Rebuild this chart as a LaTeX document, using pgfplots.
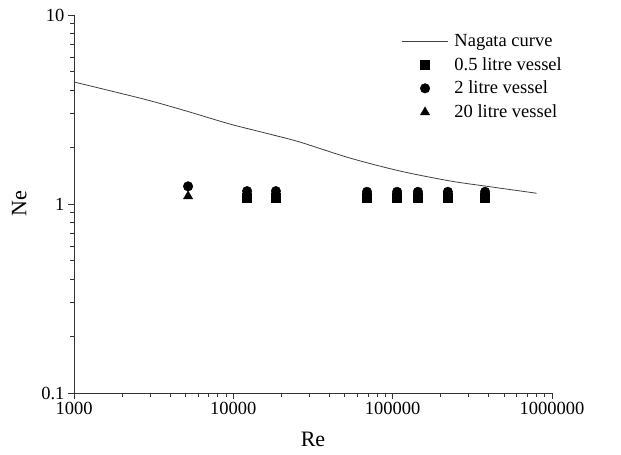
\documentclass[border=0pt]{standalone}
\usepackage{pgfplots}
\pgfplotsset{compat=1.18}
\usepackage{fontspec}
\setmainfont{Liberation Serif}
\pgfplotsset{
  lineleg/.style={legend image code/.code={\draw[##1] (0pt,0pt) -- (46pt,0pt);}},
  markleg/.style={legend image code/.code={\draw[##1] plot coordinates {(23pt,0pt)};}},
}
\begin{document}
\begin{tikzpicture}
\begin{axis}[
  scale only axis,
  width=478pt, height=378pt,
  xmode=log, ymode=log,
  xmin=1000, xmax=1000000,
  ymin=0.1, ymax=10,
  axis lines=left,
  axis line style={-, black!80, line width=0.9pt},
  tick style={black!80, line width=0.8pt},
  tick align=outside,
  major tick length=6pt,
  minor tick length=4pt,
  xtick={1000,10000,100000,1000000},
  xticklabels={1000,10000,100000,1000000},
  ytick={0.1,1,10},
  yticklabels={0.1,1,10},
  /pgf/number format/assume math mode=true,
  tick label style={font=\fontsize{18.5}{20}\selectfont},
  xlabel={Re}, ylabel={Ne},
  label style={font=\fontsize{22}{24}\selectfont},
  xlabel style={yshift=-10pt},
  ylabel style={yshift=8pt},
  clip=false,
  legend style={draw=none, fill=none, font=\fontsize{18.5}{20}\selectfont,
    at={(rel axis cs:0.685,0.955)}, anchor=north west,
    row sep=5.5pt, inner sep=0pt,
    /tikz/every odd column/.append style={column sep=4pt}},
  legend cell align=left,
]
\addplot[black!75, line width=0.8pt, smooth, lineleg]
  coordinates {(1000,4.42) (1500,4.07) (3000,3.52) (5300,3.07) (9500,2.65)
  (17000,2.34) (26000,2.13) (54000,1.75) (111000,1.495) (229000,1.324)
  (392000,1.24) (800000,1.14)};
\addlegendentry{Nagata curve}
\addplot[only marks, mark=square*, mark size=4.4pt, black, markleg]
  coordinates {(12200,1.08) (18500,1.08) (69000,1.08) (106600,1.08)
  (144000,1.08) (222000,1.08) (380000,1.08)};
\addlegendentry{0.5 litre vessel}
\addplot[only marks, mark=*, mark size=4.8pt, black, markleg]
  coordinates {(5200,1.24) (12200,1.17) (18500,1.17) (69000,1.16) (106600,1.16)
  (144000,1.16) (222000,1.16) (380000,1.16)};
\addlegendentry{2 litre vessel}
\addplot[only marks, mark=triangle*, mark size=5.3pt, black, markleg]
  coordinates {(5200,1.10) (12200,1.08) (18500,1.08) (69000,1.08) (106600,1.08)
  (144000,1.08) (222000,1.08) (380000,1.08)};
\addlegendentry{20 litre vessel}
\path (rel axis cs:0,0) ++(-74pt,-62pt) coordinate (bbA);
\path (rel axis cs:1,1) ++(69pt,15pt) coordinate (bbB);
\end{axis}
\path (bbA) rectangle (bbB);
\end{tikzpicture}
\end{document}
